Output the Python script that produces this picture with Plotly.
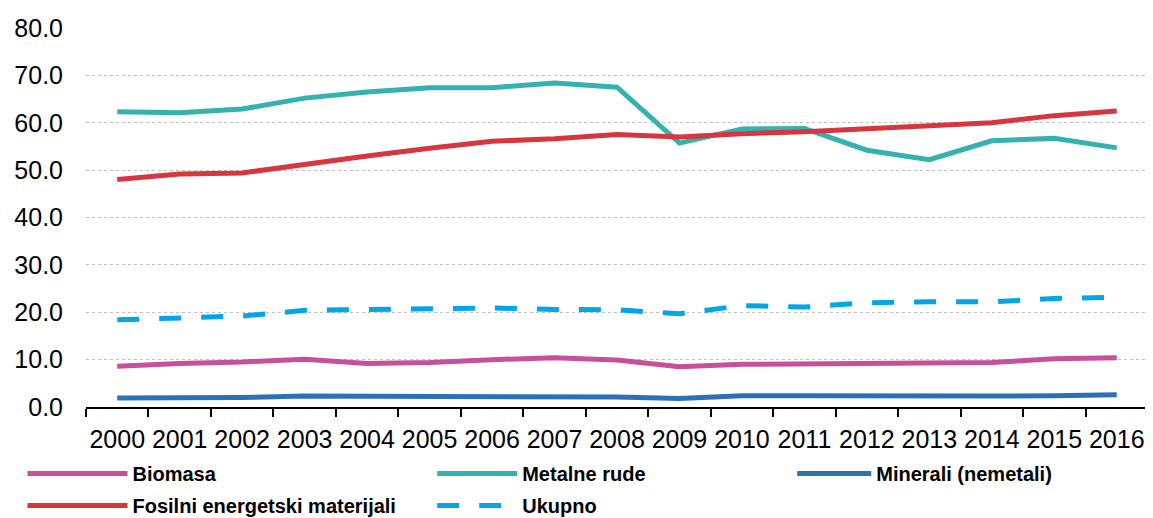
import plotly.graph_objects as go

years = [str(y) for y in range(2000, 2017)]
biomasa = [8.6, 9.2, 9.5, 10.1, 9.2, 9.4, 10.0, 10.4, 9.9, 8.5, 9.0, 9.1, 9.3, 9.4, 9.4, 10.2, 10.4]
metalne_rude = [62.3, 62.1, 62.9, 65.2, 66.5, 67.4, 67.4, 68.4, 67.5, 55.7, 58.7, 58.8, 54.2, 52.2, 56.2, 56.7, 54.7]
minerali = [1.9, 1.9, 2.0, 2.3, 2.3, 2.3, 2.2, 2.3, 2.1, 1.8, 2.4, 2.4, 2.3, 2.3, 2.3, 2.4, 2.6]
fosilni = [48.0, 49.2, 49.4, 51.3, 53.0, 54.6, 56.1, 56.6, 57.5, 57.0, 57.7, 58.1, 58.8, 59.3, 60.0, 61.5, 62.5]
ukupno = [18.4, 18.9, 19.2, 20.4, 20.5, 20.7, 20.9, 20.6, 20.5, 19.7, 21.4, 21.1, 22.0, 22.2, 22.2, 22.9, 23.2]
y_ticks = [0, 10, 20, 30, 40, 50, 60, 70, 80]

series = [
    ("Biomasa", biomasa, "#C8509A", "solid", "legend"),
    ("Metalne rude", metalne_rude, "#33B2AF", "solid", "legend2"),
    ("Minerali (nemetali)", minerali, "#2B71B8", "solid", "legend3"),
    ("Fosilni energetski materijali", fosilni, "#D8363E", "solid", "legend"),
    ("Ukupno", ukupno, "#00A6E6", "22px,20px", "legend2"),
]

fig = go.Figure()
for name, vals, color, dash, leg in series:
    fig.add_trace(go.Scatter(
        x=years, y=vals, name=name, mode="lines",
        line=dict(color=color, width=5, dash=dash),
        legend=leg, legendgroup=name,
    ))

font_family = "Liberation Sans, Arial, sans-serif"
leg_common = dict(
    orientation="v", yanchor="top", xanchor="left",
    font=dict(family=font_family, size=20, color="black", weight="bold"),
    bgcolor="rgba(0,0,0,0)", tracegroupgap=3,
    traceorder="grouped",
)

# the page body adds an 8px offset, so the figure is 8px smaller on each axis
fig.update_layout(
    width=1145, height=510,
    margin=dict(l=78, r=5, t=20, b=111, autoexpand=False),
    paper_bgcolor="white", plot_bgcolor="white",
    font=dict(family=font_family, color="black"),
    showlegend=True,
    legend=dict(x=-0.0598, y=-0.124, itemwidth=100, **leg_common),
    legend2=dict(x=0.326, y=-0.124, itemwidth=80, **leg_common),
    legend3=dict(x=0.665, y=-0.124, itemwidth=74, **leg_common),
    xaxis=dict(
        type="category", range=[-0.5, 16.5], tickangle=0, automargin=False,
        showline=True, linecolor="black", linewidth=1.5,
        ticks="outside", tickson="boundaries", ticklen=8, tickcolor="black", tickwidth=1.5,
        showgrid=False, tickfont=dict(size=25, family=font_family, color="black"),
        ticklabelstandoff=9,
    ),
    yaxis=dict(
        range=[0, 80], tickvals=y_ticks, tickformat=".1f", automargin=False,
        showgrid=True, gridcolor="#C0C0C0", griddash="dot", gridwidth=1,
        zeroline=False, showline=False,
        tickfont=dict(size=25, family=font_family, color="black"),
        ticklabelstandoff=22,
    ),
)

fig.write_html("out.html")
